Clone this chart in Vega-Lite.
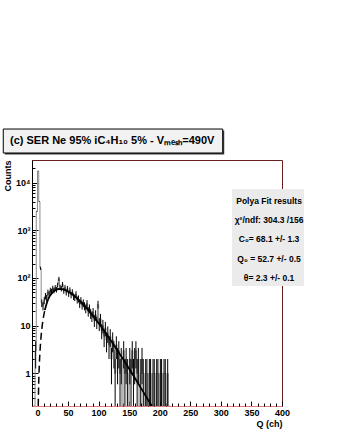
{
  "$schema": "https://vega.github.io/schema/vega-lite/v6.json",
  "width": 250,
  "height": 246,
  "autosize": "none",
  "padding": {"left": 32, "top": 160, "right": 56, "bottom": 31},
  "background": "white",
  "datasets": {
    "hist": [
      {"q": -7, "counts": 0}, {"q": -5, "counts": 0},
      {"q": -3, "counts": 3, "lo": 1.27, "hi": 4.73},
      {"q": -1, "counts": 2500, "lo": 2450, "hi": 2550},
      {"q": 1, "counts": 17500, "lo": 17368, "hi": 17632},
      {"q": 3, "counts": 4000, "lo": 3937, "hi": 4063},
      {"q": 5, "counts": 160, "lo": 147.4, "hi": 172.6},
      {"q": 7, "counts": 30, "lo": 24.5, "hi": 35.5},
      {"q": 9, "counts": 26, "lo": 20.9, "hi": 31.1},
      {"q": 11, "counts": 34, "lo": 28.2, "hi": 39.8},
      {"q": 13, "counts": 42, "lo": 35.5, "hi": 48.5},
      {"q": 15, "counts": 38, "lo": 31.8, "hi": 44.2},
      {"q": 17, "counts": 50, "lo": 42.9, "hi": 57.1},
      {"q": 19, "counts": 46, "lo": 39.2, "hi": 52.8},
      {"q": 21, "counts": 55, "lo": 47.6, "hi": 62.4},
      {"q": 23, "counts": 52, "lo": 44.8, "hi": 59.2},
      {"q": 25, "counts": 61, "lo": 53.2, "hi": 68.8},
      {"q": 27, "counts": 55, "lo": 47.6, "hi": 62.4},
      {"q": 29, "counts": 63, "lo": 55.1, "hi": 70.9},
      {"q": 31, "counts": 57, "lo": 49.5, "hi": 64.5},
      {"q": 33, "counts": 72, "lo": 63.5, "hi": 80.5},
      {"q": 35, "counts": 96, "lo": 86.2, "hi": 105.8},
      {"q": 37, "counts": 64, "lo": 56, "hi": 72},
      {"q": 39, "counts": 60, "lo": 52.3, "hi": 67.7},
      {"q": 41, "counts": 74, "lo": 65.4, "hi": 82.6},
      {"q": 43, "counts": 54, "lo": 46.7, "hi": 61.3},
      {"q": 45, "counts": 63, "lo": 55.1, "hi": 70.9},
      {"q": 47, "counts": 50, "lo": 42.9, "hi": 57.1},
      {"q": 49, "counts": 60, "lo": 52.3, "hi": 67.7},
      {"q": 51, "counts": 47, "lo": 40.1, "hi": 53.9},
      {"q": 53, "counts": 56, "lo": 48.5, "hi": 63.5},
      {"q": 55, "counts": 44, "lo": 37.4, "hi": 50.6},
      {"q": 57, "counts": 51, "lo": 43.9, "hi": 58.1},
      {"q": 59, "counts": 41, "lo": 34.6, "hi": 47.4},
      {"q": 61, "counts": 39, "lo": 32.8, "hi": 45.2},
      {"q": 63, "counts": 46, "lo": 39.2, "hi": 52.8},
      {"q": 65, "counts": 35, "lo": 29.1, "hi": 40.9},
      {"q": 67, "counts": 37, "lo": 30.9, "hi": 43.1},
      {"q": 69, "counts": 29, "lo": 23.6, "hi": 34.4},
      {"q": 71, "counts": 34, "lo": 28.2, "hi": 39.8},
      {"q": 73, "counts": 27, "lo": 21.8, "hi": 32.2},
      {"q": 75, "counts": 30, "lo": 24.5, "hi": 35.5},
      {"q": 77, "counts": 26, "lo": 20.9, "hi": 31.1},
      {"q": 79, "counts": 23, "lo": 18.2, "hi": 27.8},
      {"q": 81, "counts": 29, "lo": 23.6, "hi": 34.4},
      {"q": 83, "counts": 20, "lo": 15.5, "hi": 24.5},
      {"q": 85, "counts": 23, "lo": 18.2, "hi": 27.8},
      {"q": 87, "counts": 18, "lo": 13.8, "hi": 22.2},
      {"q": 89, "counts": 16, "lo": 12, "hi": 20},
      {"q": 91, "counts": 19, "lo": 14.6, "hi": 23.4},
      {"q": 93, "counts": 13, "lo": 9.4, "hi": 16.6},
      {"q": 95, "counts": 17, "lo": 12.9, "hi": 21.1},
      {"q": 97, "counts": 12, "lo": 8.5, "hi": 15.5},
      {"q": 99, "counts": 28, "lo": 22.7, "hi": 33.3},
      {"q": 101, "counts": 11, "lo": 7.7, "hi": 14.3},
      {"q": 103, "counts": 14, "lo": 10.3, "hi": 17.7},
      {"q": 105, "counts": 8, "lo": 5.2, "hi": 10.8},
      {"q": 107, "counts": 10, "lo": 6.8, "hi": 13.2},
      {"q": 109, "counts": 6, "lo": 3.55, "hi": 8.45},
      {"q": 111, "counts": 9, "lo": 6, "hi": 12},
      {"q": 113, "counts": 5, "lo": 2.76, "hi": 7.24},
      {"q": 115, "counts": 7, "lo": 4.35, "hi": 9.65},
      {"q": 117, "counts": 4, "lo": 2, "hi": 6},
      {"q": 119, "counts": 6, "lo": 3.55, "hi": 8.45},
      {"q": 121, "counts": 2, "lo": 0.59, "hi": 3.41},
      {"q": 123, "counts": 5, "lo": 2.76, "hi": 7.24},
      {"q": 125, "counts": 3, "lo": 1.27, "hi": 4.73},
      {"q": 127, "counts": 1, "lo": 0, "hi": 2},
      {"q": 129, "counts": 4, "lo": 2, "hi": 6},
      {"q": 131, "counts": 2, "lo": 0.59, "hi": 3.41},
      {"q": 133, "counts": 3, "lo": 1.27, "hi": 4.73},
      {"q": 135, "counts": 1, "lo": 0, "hi": 2},
      {"q": 137, "counts": 2, "lo": 0.59, "hi": 3.41},
      {"q": 139, "counts": 0},
      {"q": 141, "counts": 3, "lo": 1.27, "hi": 4.73},
      {"q": 143, "counts": 1, "lo": 0, "hi": 2},
      {"q": 145, "counts": 2, "lo": 0.59, "hi": 3.41},
      {"q": 147, "counts": 1, "lo": 0, "hi": 2},
      {"q": 149, "counts": 0},
      {"q": 151, "counts": 2, "lo": 0.59, "hi": 3.41},
      {"q": 153, "counts": 1, "lo": 0, "hi": 2},
      {"q": 155, "counts": 3, "lo": 1.27, "hi": 4.73},
      {"q": 157, "counts": 1, "lo": 0, "hi": 2},
      {"q": 159, "counts": 2, "lo": 0.59, "hi": 3.41},
      {"q": 161, "counts": 3, "lo": 1.27, "hi": 4.73},
      {"q": 163, "counts": 1, "lo": 0, "hi": 2},
      {"q": 165, "counts": 2, "lo": 0.59, "hi": 3.41},
      {"q": 167, "counts": 0},
      {"q": 169, "counts": 1, "lo": 0, "hi": 2},
      {"q": 171, "counts": 2, "lo": 0.59, "hi": 3.41},
      {"q": 173, "counts": 1, "lo": 0, "hi": 2},
      {"q": 175, "counts": 0},
      {"q": 177, "counts": 1, "lo": 0, "hi": 2},
      {"q": 179, "counts": 1, "lo": 0, "hi": 2},
      {"q": 181, "counts": 0},
      {"q": 183, "counts": 1, "lo": 0, "hi": 2},
      {"q": 185, "counts": 1, "lo": 0, "hi": 2},
      {"q": 187, "counts": 0},
      {"q": 189, "counts": 1, "lo": 0, "hi": 2},
      {"q": 191, "counts": 1, "lo": 0, "hi": 2},
      {"q": 193, "counts": 0},
      {"q": 195, "counts": 1, "lo": 0, "hi": 2},
      {"q": 197, "counts": 1, "lo": 0, "hi": 2},
      {"q": 199, "counts": 0},
      {"q": 201, "counts": 1, "lo": 0, "hi": 2},
      {"q": 203, "counts": 1, "lo": 0, "hi": 2},
      {"q": 205, "counts": 0},
      {"q": 207, "counts": 1, "lo": 0, "hi": 2},
      {"q": 209, "counts": 1, "lo": 0, "hi": 2},
      {"q": 211, "counts": 0},
      {"q": 213, "counts": 1, "lo": 0, "hi": 2},
      {"q": 215, "counts": 0},
      {"q": 217, "counts": 0}
    ],
    "fit": [
      {"q": 1.2, "f": 0.209, "part": "ext"},
      {"q": 2, "f": 0.643, "part": "ext"},
      {"q": 3, "f": 1.534, "part": "ext"},
      {"q": 4, "f": 2.794, "part": "ext"},
      {"q": 6, "f": 6.26, "part": "ext"},
      {"q": 8, "f": 10.71, "part": "ext"},
      {"q": 10, "f": 15.79, "part": "ext"},
      {"q": 12, "f": 21.18, "part": "ext"},
      {"q": 12, "f": 21.18, "part": "range"},
      {"q": 15, "f": 29.33, "part": "range"},
      {"q": 20, "f": 41.57, "part": "range"},
      {"q": 25, "f": 50.78, "part": "range"},
      {"q": 30, "f": 56.46, "part": "range"},
      {"q": 35, "f": 58.85, "part": "range"},
      {"q": 40, "f": 58.5, "part": "range"},
      {"q": 45, "f": 56.08, "part": "range"},
      {"q": 50, "f": 52.25, "part": "range"},
      {"q": 60, "f": 42.49, "part": "range"},
      {"q": 70, "f": 32.38, "part": "range"},
      {"q": 80, "f": 23.54, "part": "range"},
      {"q": 90, "f": 16.5, "part": "range"},
      {"q": 100, "f": 11.24, "part": "range"},
      {"q": 110, "f": 7.48, "part": "range"},
      {"q": 120, "f": 4.886, "part": "range"},
      {"q": 130, "f": 3.14, "part": "range"},
      {"q": 140, "f": 1.99, "part": "range"},
      {"q": 150, "f": 1.247, "part": "range"},
      {"q": 160, "f": 0.774, "part": "range"},
      {"q": 170, "f": 0.475, "part": "range"},
      {"q": 180, "f": 0.29, "part": "range"},
      {"q": 187, "f": 0.204, "part": "range"}
    ]
  },
  "layer": [
    {
      "layer": [
        {
          "data": {"values": [{}]},
          "mark": {"type": "rect", "fill": "#3a3a3a", "clip": false},
          "encoding": {
            "x": {"datum": -53.5, "type": "quantitative", "scale": {"domain": [-9, 400], "nice": false, "zero": false}, "axis": null},
            "x2": {"datum": 305.5},
            "y": {"datum": 38900, "type": "quantitative", "scale": {"type": "log", "domain": [0.207, 29800], "nice": false}, "axis": null},
            "y2": {"datum": 123800}
          }
        },
        {
          "data": {"values": [{}]},
          "mark": {"type": "rect", "fill": "#f2f2f2", "stroke": "#000000", "strokeWidth": 1, "clip": false},
          "encoding": {
            "x": {"datum": -56, "type": "quantitative", "axis": null},
            "x2": {"datum": 303},
            "y": {"datum": 41800, "type": "quantitative", "axis": null},
            "y2": {"datum": 133000}
          }
        },
        {
          "data": {"values": [{}]},
          "mark": {"type": "text", "align": "left", "baseline": "middle", "font": "Liberation Sans", "fontWeight": "bold", "fontSize": 11, "color": "#000000", "clip": false},
          "encoding": {
            "x": {"datum": -45, "type": "quantitative", "axis": null},
            "y": {"datum": 74500, "type": "quantitative", "axis": null},
            "text": {"value": "(c) SER Ne 95% iC₄H₁₀ 5% - Vₘₑₛₕ=490V"}
          }
        }
      ]
    },
    {
      "layer": [
        {
          "data": {"name": "hist"},
          "mark": {"type": "line", "interpolate": "step", "color": "#8c8c8c", "strokeWidth": 1, "clip": true},
          "encoding": {
            "x": {
              "field": "q", "type": "quantitative",
              "scale": {"domain": [-9, 400], "nice": false, "zero": false},
              "axis": {
                "orient": "bottom",
                "values": [0, 50, 100, 150, 200, 250, 300, 350, 400],
                "tickSize": -5, "tickColor": "#000000", "tickWidth": 1,
                "domainColor": "#e07a7a", "domainWidth": 1,
                "labelFont": "Liberation Sans", "labelFontWeight": "bold", "labelFontSize": 9, "labelColor": "#000000",
                "labelPadding": 7, "labelFlush": false,
                "grid": false,
                "title": "Q (ch)", "titleAnchor": "end", "titleFont": "Liberation Sans", "titleFontWeight": "bold", "titleFontSize": 9, "titleColor": "#000000", "titlePadding": 2
              }
            },
            "y": {
              "field": "counts", "type": "quantitative",
              "scale": {"type": "log", "domain": [0.207, 29800], "nice": false, "clamp": true},
              "axis": {
                "orient": "left",
                "values": [1, 10, 100, 1000, 10000],
                "labelExpr": "datum.value >= 10000 ? '10⁴' : datum.value >= 1000 ? '10³' : datum.value >= 100 ? '10²' : datum.value >= 10 ? '10' : '1'",
                "tickSize": -6, "tickColor": "#000000", "tickWidth": 1,
                "domainColor": "#000000", "domainWidth": 1,
                "labelFont": "Liberation Sans", "labelFontWeight": "bold", "labelFontSize": 9, "labelColor": "#000000",
                "labelPadding": 8, "labelFlush": false,
                "grid": false,
                "title": "Counts", "titleAnchor": "end", "titleFont": "Liberation Sans", "titleFontWeight": "bold", "titleFontSize": 9, "titleColor": "#000000", "titlePadding": 3
              }
            }
          }
        },
        {
          "data": {"name": "hist"},
          "mark": {"type": "rule", "color": "#000000", "strokeWidth": 1, "clip": true},
          "encoding": {
            "x": {
              "field": "q", "type": "quantitative",
              "axis": {
                "orient": "bottom",
                "values": [10, 20, 30, 40, 60, 70, 80, 90, 110, 120, 130, 140, 160, 170, 180, 190, 210, 220, 230, 240, 260, 270, 280, 290, 310, 320, 330, 340, 360, 370, 380, 390],
                "tickSize": -3, "tickColor": "#000000", "tickWidth": 1,
                "domain": false, "labels": false, "grid": false, "title": null
              }
            },
            "y": {
              "field": "lo", "type": "quantitative",
              "axis": {
                "orient": "left",
                "values": [0.3, 0.4, 0.5, 0.6, 0.7, 0.8, 0.9, 2, 3, 4, 5, 6, 7, 8, 9, 20, 30, 40, 50, 60, 70, 80, 90, 200, 300, 400, 500, 600, 700, 800, 900, 2000, 3000, 4000, 5000, 6000, 7000, 8000, 9000, 20000],
                "tickSize": -3, "tickColor": "#000000", "tickWidth": 1,
                "domain": false, "labels": false, "grid": false, "title": null
              }
            },
            "y2": {"field": "hi"}
          }
        },
        {
          "data": {"name": "fit"},
          "transform": [{"filter": "datum.part == 'ext'"}],
          "mark": {"type": "line", "color": "#000000", "strokeWidth": 1.5, "strokeDash": [7, 4], "interpolate": "monotone", "clip": true},
          "encoding": {
            "x": {"field": "q", "type": "quantitative", "axis": null},
            "y": {"field": "f", "type": "quantitative", "axis": null}
          }
        },
        {
          "data": {"name": "fit"},
          "transform": [{"filter": "datum.part == 'range'"}],
          "mark": {"type": "line", "color": "#000000", "strokeWidth": 1.8, "interpolate": "monotone", "clip": true},
          "encoding": {
            "x": {"field": "q", "type": "quantitative", "axis": null},
            "y": {"field": "f", "type": "quantitative", "axis": null}
          }
        }
      ],
      "resolve": {"axis": {"x": "independent", "y": "independent"}}
    },
    {
      "layer": [
        {
          "data": {"values": [{}]},
          "mark": {"type": "rect", "fill": "#ebebeb", "clip": false},
          "encoding": {
            "x": {"datum": 318.2, "type": "quantitative", "axis": null},
            "x2": {"datum": 436},
            "y": {"datum": 67.9, "type": "quantitative", "scale": {"type": "log", "domain": [0.207, 29800], "nice": false}, "axis": null},
            "y2": {"datum": 7350}
          }
        },
        {
          "data": {"values": [{}]},
          "mark": {"type": "text", "align": "center", "baseline": "middle", "font": "Liberation Sans", "fontWeight": "bold", "fontSize": 8.5, "color": "#000000", "clip": false},
          "encoding": {
            "x": {"datum": 378.8, "type": "quantitative", "axis": null},
            "y": {"datum": 4110, "type": "quantitative", "axis": null},
            "text": {"value": "Polya Fit results"}
          }
        },
        {
          "data": {"values": [{}]},
          "mark": {"type": "text", "align": "center", "baseline": "middle", "font": "Liberation Sans", "fontWeight": "bold", "fontSize": 8.5, "lineHeight": 19.3, "color": "#000000", "clip": false},
          "encoding": {
            "x": {"datum": 378.8, "type": "quantitative", "axis": null},
            "y": {"datum": 1645, "type": "quantitative", "axis": null},
            "text": {"value": ["χ²/ndf: 304.3 /156", "C₀= 68.1 +/- 1.3", "Q₀ = 52.7 +/- 0.5", "θ= 2.3 +/- 0.1"]}
          }
        }
      ]
    }
  ],
  "resolve": {"scale": {"y": "independent"}, "axis": {"x": "independent", "y": "independent"}},
  "config": {
    "view": {"stroke": "#6b1e1e", "strokeWidth": 1},
    "font": "Liberation Sans"
  }
}
